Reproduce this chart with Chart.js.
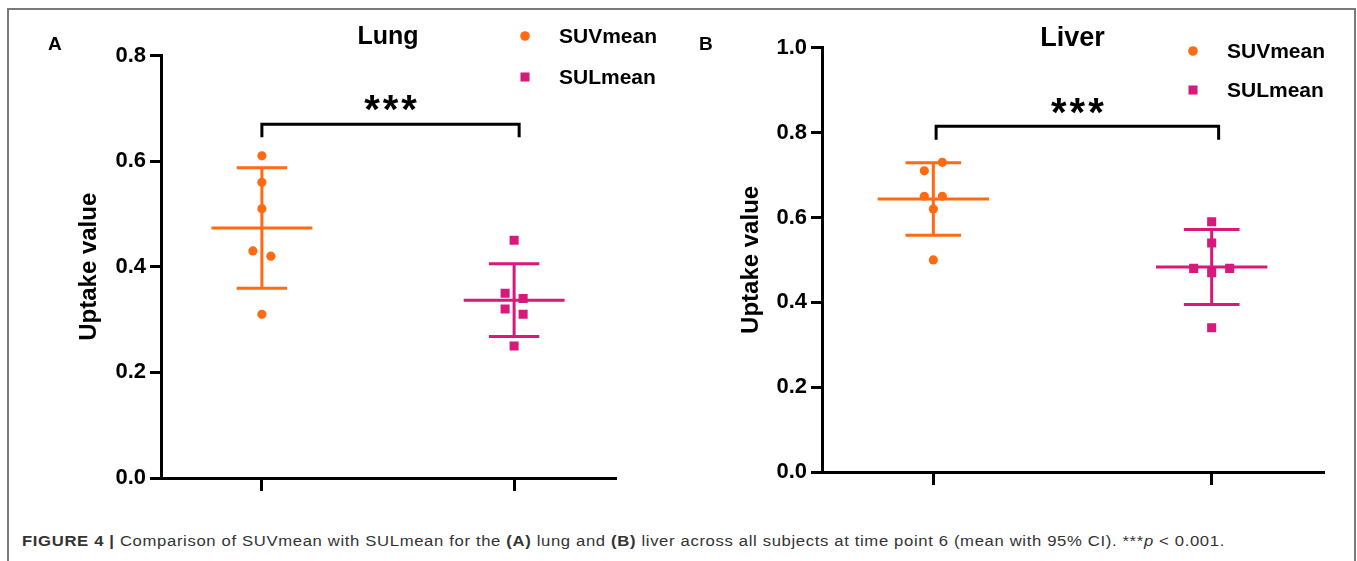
<!DOCTYPE html>
<html>
<head>
<meta charset="utf-8">
<script src="https://cdn.jsdelivr.net/npm/chart.js@4.4.1/dist/chart.umd.min.js"></script>
<style>
  html, body { margin: 0; padding: 0; background: #fff; }
  body { width: 1357px; height: 561px; position: relative; overflow: hidden; font-family: "Liberation Sans", Arial, sans-serif; }
  #frame { position: absolute; left: 7px; top: 8px; width: 1349px; height: 700px; border: 2px solid #7a7a7a; box-sizing: border-box; pointer-events: none; z-index: 5; }
  canvas { position: absolute; top: 0; }
  #cA { left: 0; }
  #cB { left: 680px; }
  .letter { position: absolute; font-weight: bold; font-size: 19px; color: #000; line-height: 1; z-index: 4; }
  #caption { position: absolute; left: 22px; top: 532px; font-size: 15.5px; letter-spacing: 0.6px; line-height: 18px; color: #333; white-space: nowrap; z-index: 4; transform-origin: 0 50%; }
</style>
</head>
<body>
<div id="frame"></div>
<canvas id="cA" width="680" height="500"></canvas>
<canvas id="cB" width="677" height="500"></canvas>
<div class="letter" style="left:48px; top:34px;">A</div>
<div class="letter" style="left:699px; top:34px;">B</div>
<div id="caption"><b>FIGURE 4 |</b> Comparison of SUVmean with SULmean for the <b>(A)</b> lung and <b>(B)</b> liver across all subjects at time point 6 (mean with 95% CI). ***<i>p</i> &lt; 0.001.</div>

<script>
// ---------------- data ----------------
const categories = ['SUVmean', 'SULmean'];
const lungSUV  = [0.61, 0.56, 0.51, 0.43, 0.42, 0.31];
const lungSUL  = [0.45, 0.35, 0.34, 0.32, 0.31, 0.25];
const liverSUV = [0.71, 0.73, 0.65, 0.65, 0.62, 0.50];
const liverSUL = [0.59, 0.54, 0.48, 0.47, 0.48, 0.34];
const lungTicks  = [0.0, 0.2, 0.4, 0.6, 0.8];
const liverTicks = [0.0, 0.2, 0.4, 0.6, 0.8, 1.0];
const panelTitles = ['Lung', 'Liver'];
const yAxisTitle = 'Uptake value';
const significance = '***';

// ---------------- style ----------------
const FONT = '"Liberation Sans", Arial, sans-serif';
const COLORS = ['#FF6A13', '#D6197A'];
const STYLES = ['circle', 'rect'];
const RADII = [4.6, 6.4];
const T975_DF5 = 2.5706;

// stretch caption to the reference width
(function () {
  const cap = document.getElementById('caption');
  const w = cap.getBoundingClientRect().width;
  cap.style.transform = 'scaleX(' + (1203 / w) + ')';
})();

function meanCI(v) {
  const n = v.length;
  const m = v.reduce((a, b) => a + b, 0) / n;
  const sd = Math.sqrt(v.reduce((a, b) => a + (b - m) * (b - m), 0) / (n - 1));
  const h = T975_DF5 * sd / Math.sqrt(n);
  return { m, lo: m - h, hi: m + h };
}

function barPoints(g, s, hm, hc) {
  return [
    { x: g - hm, y: s.m }, { x: g + hm, y: s.m }, { x: g, y: null },
    { x: g - hc, y: s.hi }, { x: g + hc, y: s.hi }, { x: g, y: null },
    { x: g, y: s.hi }, { x: g, y: s.lo }, { x: g, y: null },
    { x: g - hc, y: s.lo }, { x: g + hc, y: s.lo }
  ];
}

// cluster points that overlap vertically and spread them side by side
function swarmOffsets(values, toPx, spacing, thresh) {
  const idx = values.map((v, i) => i).sort((a, b) => values[b] - values[a]);
  const clusters = [];
  let cur = [idx[0]];
  for (let k = 1; k < idx.length; k++) {
    if (Math.abs(toPx(values[idx[k]]) - toPx(values[idx[k - 1]])) < thresh) cur.push(idx[k]);
    else { clusters.push(cur); cur = [idx[k]]; }
  }
  clusters.push(cur);
  const off = new Array(values.length).fill(0);
  clusters.forEach(c => {
    c.sort((a, b) => a - b);
    c.forEach((id, j) => { off[id] = (j - (c.length - 1) / 2) * spacing; });
  });
  return off;
}

const annotPlugin = {
  id: 'annot',
  afterDatasetsDraw(chart, args, o) {
    const ctx = chart.ctx;
    const xs = chart.scales.x, ys = chart.scales.y;
    // significance stars
    const sx = (xs.getPixelForValue(o.bracketX[0]) + xs.getPixelForValue(o.bracketX[1])) / 2;
    const sy = ys.getPixelForValue(o.bracketY[1]) - o.starsDy;
    ctx.save();
    ctx.fillStyle = '#000';
    ctx.font = 'bold 40px ' + FONT;
    ctx.letterSpacing = '3px';
    ctx.textAlign = 'center';
    ctx.textBaseline = 'alphabetic';
    const m = ctx.measureText(significance);
    const base = sy + (m.actualBoundingBoxAscent - m.actualBoundingBoxDescent) / 2;
    ctx.fillText(significance, sx + 1.5, base);
    ctx.restore();
    // legend
    ctx.save();
    ctx.font = 'bold 21px ' + FONT;
    ctx.textAlign = 'left';
    ctx.textBaseline = 'middle';
    categories.forEach((c, i) => {
      const y = o.legendY + i * o.legendGap;
      ctx.fillStyle = COLORS[i];
      Chart.helpers.drawPoint(ctx, { pointStyle: STYLES[i], radius: i === 0 ? 4.8 : 6.4, rotation: 0, borderWidth: 0 }, o.legendX, y);
      ctx.fillStyle = '#000';
      ctx.fillText(c, o.legendX + o.legendTextDx, y + 1);
    });
    ctx.restore();
  }
};

function makePanel(canvasId, title, seriesList, yTicks, L) {
  const datasets = [];
  const pointSets = [];
  seriesList.forEach((vals, i) => {
    const g = i + 1;
    pointSets.push({ ds: datasets.length, vals, g });
    datasets.push({
      label: categories[i],
      data: vals.map(v => ({ x: g, y: v })),
      pointStyle: STYLES[i], pointRadius: RADII[i], pointHoverRadius: RADII[i],
      backgroundColor: COLORS[i], borderWidth: 0, pointBorderWidth: 0,
      showLine: false, order: 2
    });
  });
  seriesList.forEach((vals, i) => {
    datasets.push({
      label: categories[i] + ' mean ± 95% CI',
      data: barPoints(i + 1, meanCI(vals), 0.2, 0.1),
      showLine: true, spanGaps: false, borderColor: COLORS[i], borderWidth: 3,
      pointRadius: 0, borderCapStyle: 'butt', fill: false, order: 1
    });
  });
  datasets.push({
    label: 'bracket',
    data: [
      { x: L.bracketX[0], y: L.bracketY[0] }, { x: L.bracketX[0], y: L.bracketY[1] },
      { x: L.bracketX[1], y: L.bracketY[1] }, { x: L.bracketX[1], y: L.bracketY[0] }
    ],
    showLine: true, borderColor: '#000', borderWidth: 3, pointRadius: 0,
    borderJoinStyle: 'miter', borderCapStyle: 'butt', fill: false, order: 0
  });

  const chart = new Chart(document.getElementById(canvasId), {
    type: 'scatter',
    data: { datasets },
    plugins: [annotPlugin],
    options: {
      responsive: false, animation: false, events: [],
      layout: { padding: { left: 0, right: L.padRight, top: 0, bottom: 0 } },
      plugins: {
        legend: { display: false },
        tooltip: { enabled: false },
        title: {
          display: true, text: title, fullSize: false, color: '#000',
          font: { family: FONT, size: L.titleSize, weight: 'bold', lineHeight: 0.6 },
          padding: { top: L.titleTop, bottom: L.titleBottom }
        },
        annot: L
      },
      scales: {
        x: {
          type: 'linear', min: 0.6, max: 2.4,
          afterBuildTicks: s => { s.ticks = categories.map((c, i) => ({ value: i + 1 })); },
          ticks: { display: false },
          grid: { display: true, drawOnChartArea: false, drawTicks: true, tickLength: 13, tickWidth: 3, tickColor: '#000', color: '#000', lineWidth: 3 },
          border: { display: true, color: '#000', width: 3 },
          afterFit: s => { s.height = L.xHeight; }
        },
        y: {
          type: 'linear', min: yTicks[0], max: yTicks[yTicks.length - 1],
          afterBuildTicks: s => { s.ticks = yTicks.map(v => ({ value: v })); },
          ticks: {
            color: '#000', padding: 4,
            font: { family: FONT, size: 22, weight: 'bold' },
            callback: v => Number(v).toFixed(1)
          },
          grid: { display: true, drawOnChartArea: false, drawTicks: true, tickLength: 11, tickWidth: 3, tickColor: '#000', color: '#000', lineWidth: 3 },
          border: { display: true, color: '#000', width: 3 },
          title: {
            display: true, text: yAxisTitle, color: '#000',
            font: { family: FONT, size: 24, weight: 'bold', lineHeight: 1.2 },
            padding: { top: L.yTitleTop, bottom: 0 }
          },
          afterFit: s => { s.width = L.yWidth; }
        }
      }
    }
  });

  // spread overlapping points using the library's scales
  const xs = chart.scales.x, ys = chart.scales.y;
  const pxPerUnit = xs.getPixelForValue(2) - xs.getPixelForValue(1);
  pointSets.forEach(p => {
    const offs = swarmOffsets(p.vals, v => ys.getPixelForValue(v), 18, 9.5);
    chart.data.datasets[p.ds].data = p.vals.map((v, i) => ({ x: p.g + offs[i] / pxPerUnit, y: v }));
  });
  chart.update('none');
  return chart;
}

makePanel('cA', panelTitles[0], [lungSUV, lungSUL], lungTicks, {
  padRight: 65, yWidth: 161, xHeight: 22, yTitleTop: 74.6,
  titleSize: 25, titleTop: 29.5, titleBottom: 11,
  bracketX: [1.0, 2.02], bracketY: [0.645, 0.67], starsDy: 21,
  legendX: 525, legendY: 36, legendGap: 41, legendTextDx: 34
});
makePanel('cB', panelTitles[1], [liverSUV, liverSUL], liverTicks, {
  padRight: 34, yWidth: 142, xHeight: 28, yTitleTop: 57.1,
  titleSize: 27, titleTop: 30.8, titleBottom: 0.8,
  bracketX: [1.01, 2.025], bracketY: [0.783, 0.815], starsDy: 20,
  legendX: 513, legendY: 51, legendGap: 39, legendTextDx: 34
});
</script>
</body>
</html>
